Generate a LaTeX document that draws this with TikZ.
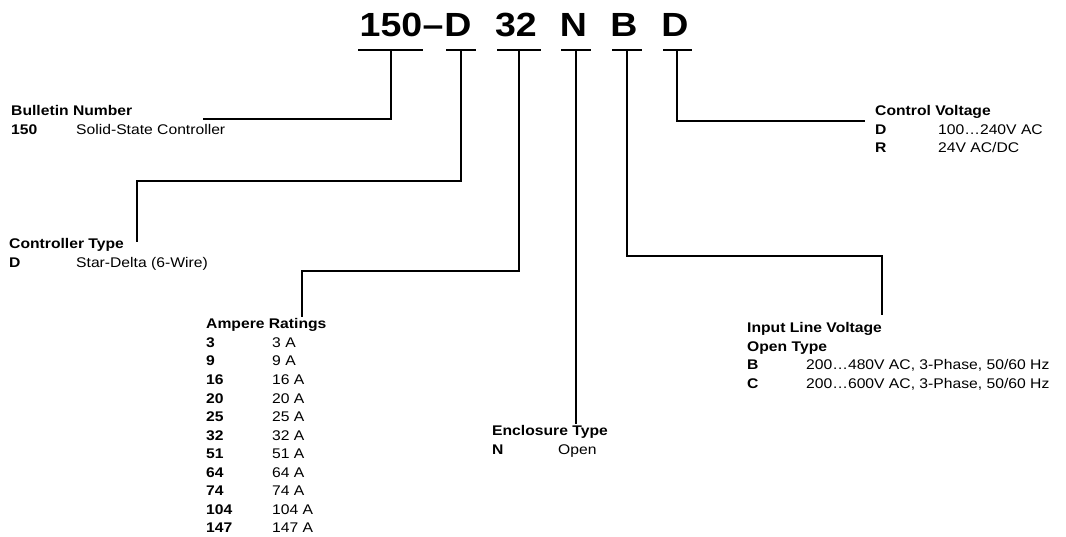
\documentclass[tikz,border=0pt]{standalone}
\usepackage{fontspec}
\setmainfont[FakeStretch=1.12]{Liberation Sans}

\begin{document}
\begin{tikzpicture}[
    x=1pt, y=-1pt,
    code/.style={font=\fontsize{33.5}{40}\selectfont\bfseries, inner sep=0, anchor=base},
    lead/.style={line width=1.7pt},
    keyHead/.style={font=\fontsize{14}{17}\selectfont\bfseries, inner sep=0, anchor=base west},
    keyText/.style={font=\fontsize{14}{17}\selectfont, inner sep=0, anchor=base west}
]
    \useasboundingbox (0,0) rectangle (1066,537);

    % Catalog number
    \node [code] (c150) at (391,37) {150};
    \node [code] (cDash) at (433,37) {–};
    \node [code] (cType) at (458,37) {D};
    \node [code] (cAmp) at (516,37) {32};
    \node [code] (cEncl) at (573.5,37) {N};
    \node [code] (cLine) at (624,37) {B};
    \node [code] (cCtrl) at (675,37) {D};

    % Underlines
    \foreach \a/\b in {358/423, 446/476, 497/541, 561/591, 612/642, 663/692} {
        \draw [lead] (\a,50) -- (\b,50);
    }

    % Leader lines
    \coordinate (u150) at (391,50);
    \coordinate (uType) at (461,50);
    \coordinate (uAmp) at (519,50);
    \coordinate (uEncl) at (576,50);
    \coordinate (uLine) at (627,50);
    \coordinate (uCtrl) at (677,50);
    \coordinate (e150) at (203,119);
    \coordinate (eType) at (137,242);
    \coordinate (eAmp) at (302,317);
    \coordinate (eEncl) at (576,424);
    \coordinate (eLine) at (882,315);
    \coordinate (eCtrl) at (865,121);

    \draw [lead] (u150) |- (e150);
    \draw [lead] (uType) |- (eType |- 0,181) -- (eType);
    \draw [lead] (uAmp) |- (eAmp |- 0,271) -- (eAmp);
    \draw [lead] (uEncl) -- (eEncl);
    \draw [lead] (uLine) |- (eLine |- 0,256) -- (eLine);
    \draw [lead] (uCtrl) |- (eCtrl);

    % Bulletin number
    \node [keyHead] (bullHead) at (11,116) {Bulletin Number};
    \node [keyHead] (bullCode) at (11,134.5) {150};
    \node [keyText] (bullText) at (76,134.5) {Solid-State Controller};

    % Controller type
    \node [keyHead] (typeHead) at (9,249) {Controller Type};
    \node [keyHead] (typeCode) at (9,267.5) {D};
    \node [keyText] (typeText) at (76,267.5) {Star-Delta (6-Wire)};

    % Ampere ratings
    \node [keyHead] (ampHead) at (206,329) {Ampere Ratings};
    \foreach \r [count=\i] in {3,9,16,20,25,32,51,64,74,104,147} {
        \node [keyHead] (ampCode\i) at (206,329+\i*18.5) {\r};
        \node [keyText] (ampText\i) at (272,329+\i*18.5) {\r~A};
    }

    % Enclosure type
    \node [keyHead] (enclHead) at (492,435.5) {Enclosure Type};
    \node [keyHead] (enclCode) at (492,454) {N};
    \node [keyText] (enclText) at (558,454) {Open};

    % Input line voltage
    \node [keyHead] (lineHead) at (747,333) {Input Line Voltage};
    \node [keyHead] (lineSub) at (747,351.5) {Open Type};
    \node [keyHead] (lineCodeB) at (747,370) {B};
    \node [keyText] (lineTextB) at (806,370) {200…480V AC, 3-Phase, 50/60 Hz};
    \node [keyHead] (lineCodeC) at (747,388.5) {C};
    \node [keyText] (lineTextC) at (806,388.5) {200…600V AC, 3-Phase, 50/60 Hz};

    % Control voltage
    \node [keyHead] (ctrlHead) at (875,116) {Control Voltage};
    \node [keyHead] (ctrlCodeD) at (875,134.5) {D};
    \node [keyText] (ctrlTextD) at (938,134.5) {100…240V AC};
    \node [keyHead] (ctrlCodeR) at (875,153) {R};
    \node [keyText] (ctrlTextR) at (938,153) {24V AC/DC};
\end{tikzpicture}
\end{document}
